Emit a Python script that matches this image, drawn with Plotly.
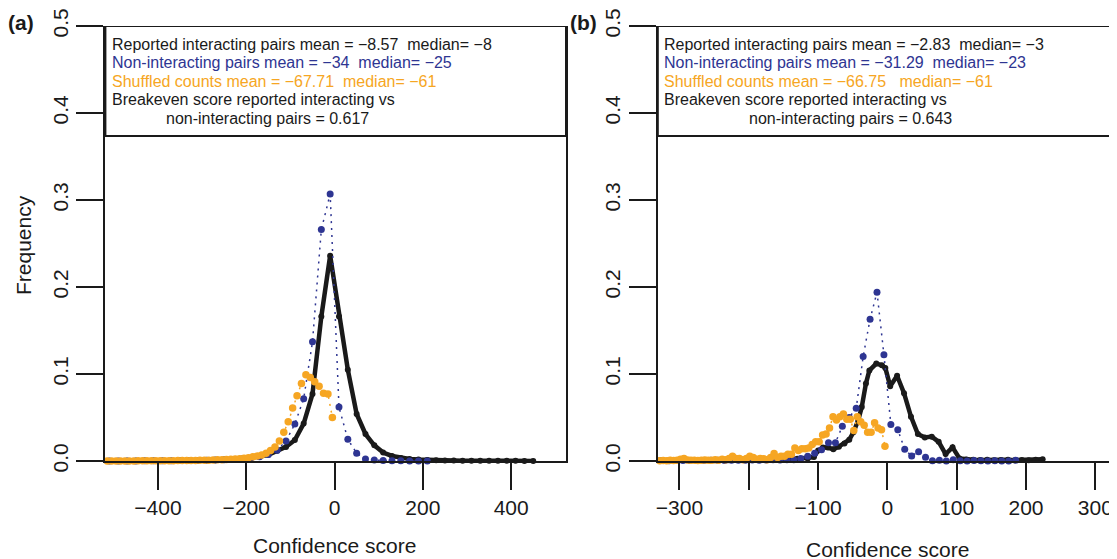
import plotly.graph_objects as go

# ---------------- data: panel (a) ----------------
black_a_x = [-510, -490, -470, -450, -430, -410, -390, -370, -350, -330, -310, -290, -270,
             -250, -230, -210, -190, -170, -150, -130, -110, -90, -70, -50, -30, -10,
             10, 30, 50, 70, 90, 110, 130, 150, 170, 190, 210, 230, 250, 270, 290, 310,
             330, 350, 370, 390, 410, 430, 450]
black_a_y = [0.0001, 0.0001, 0.0002, 0.0002, 0.0002, 0.0003, 0.0003, 0.0004, 0.0005, 0.0006,
             0.0007, 0.0008, 0.0010, 0.0013, 0.0018, 0.0025, 0.0035, 0.0050, 0.0072, 0.0118,
             0.0162, 0.024, 0.043, 0.077, 0.166, 0.236,
             0.166, 0.105, 0.054, 0.031, 0.018, 0.0098, 0.0058, 0.0035, 0.0024, 0.0016,
             0.0011, 0.0008, 0.0006, 0.0005, 0.0004, 0.0004, 0.0003, 0.0003, 0.0002, 0.0002,
             0.0002, 0.0001, 0.0001]

blue_a_x = [-510, -490, -470, -450, -430, -410, -390, -370, -350, -330, -310, -290, -270,
            -250, -230, -210, -190, -170, -150, -130, -110, -90, -70, -50, -30, -10,
            10, 30, 50, 70, 90, 110, 130, 150, 170, 190, 210]
blue_a_y = [0.0, 0.0, 0.0001, 0.0001, 0.0002, 0.0002, 0.0003, 0.0004, 0.0005, 0.0006,
            0.0007, 0.0009, 0.0011, 0.0014, 0.0018, 0.0024, 0.0033, 0.0048, 0.0075, 0.0125,
            0.023, 0.0425, 0.0715, 0.137, 0.266, 0.307,
            0.062, 0.025, 0.009, 0.0023, 0.0011, 0.0005, 0.0003, 0.0002, 0.0001, 0.0, 0.0]

orange_a_x = [-525, -515, -505, -495, -485, -475, -465, -455, -445, -435, -425, -415, -405,
              -395, -385, -375, -365, -355, -345, -335, -325, -315, -305, -295,
              -285, -275, -265, -255, -245, -235, -225, -215, -205,
              -195, -185, -175, -165, -155, -145, -135, -125, -115, -105,
              -95, -85, -75, -65, -55, -45, -35, -25, -15, -5]
orange_a_y = [0.0, 0.0, 0.0, 0.0001, 0.0001, 0.0001, 0.0001, 0.0001, 0.0002, 0.0002, 0.0002,
              0.0002, 0.0003,
              0.0003, 0.0003, 0.0004, 0.0004, 0.0005, 0.0005, 0.0006, 0.0007, 0.0007, 0.0008,
              0.0009,
              0.0010, 0.0011, 0.0013, 0.0015, 0.0017, 0.0020, 0.0023, 0.0027, 0.0031,
              0.0038, 0.0048, 0.0058, 0.0069, 0.0088, 0.012, 0.016, 0.023, 0.033, 0.045,
              0.061, 0.075, 0.089, 0.099, 0.096, 0.091, 0.086, 0.078, 0.077, 0.050]

# ---------------- data: panel (b) ----------------
black_b_x = [-328, -310, -290, -270, -250, -230, -210, -190, -170, -150, -130, -115, -106,
             -100, -93, -86, -78, -70, -62, -55, -49, -42, -37, -31, -26, -16, -8, -3,
             4, 14, 24, 34, 44, 54, 64, 74, 84, 94, 104, 114, 124, 134, 144, 154, 164,
             174, 184, 194, 204, 214, 224]
black_b_y = [0.0008, 0.0008, 0.0010, 0.0008, 0.0010, 0.0010, 0.0012, 0.0015, 0.0020, 0.0020,
             0.0025, 0.0030, 0.0045, 0.012, 0.0155, 0.0155, 0.0135, 0.0165, 0.020, 0.0245,
             0.033, 0.047, 0.062, 0.089, 0.104, 0.112, 0.110, 0.107,
             0.086, 0.098, 0.078, 0.051, 0.031, 0.027, 0.028, 0.022, 0.008, 0.0157, 0.003,
             0.0018, 0.0015, 0.0012, 0.0015, 0.0010, 0.0012, 0.0015, 0.0010, 0.0012, 0.0010,
             0.0013, 0.0020]

blue_b_x = [-335, -325, -315, -305, -295, -285, -275, -265, -255, -245, -235, -225, -215,
            -205, -195, -185, -175, -165, -155, -145,
            -135, -125, -115, -105, -95, -85, -75, -65, -55, -45, -35, -25, -15, -5,
            5, 15, 25, 35, 45, 55, 65, 75, 85, 95, 105, 115, 125, 135, 145, 155, 165, 175, 185]
blue_b_y = [0.0005, 0.0005, 0.0004, 0.0006, 0.0006, 0.0005, 0.0007, 0.0006, 0.0008, 0.0008,
            0.0007, 0.0009, 0.0010, 0.0009, 0.0011, 0.0010, 0.0012, 0.0013, 0.0012, 0.0014,
            0.0015, 0.003, 0.0054, 0.009, 0.013, 0.021, 0.021, 0.040, 0.050, 0.0605, 0.120,
            0.163, 0.194, 0.122,
            0.042, 0.036, 0.0134, 0.0058, 0.0107, 0.0042, 0.0004, 0.0008, 0.0, 0.0015,
            0.0003, 0.0, 0.0005, 0.0002, 0.0, 0.0003, 0.0, 0.0001, 0.0010]

orange_b_x = [-333.5, -328.5, -323.5, -318.5, -313.5, -308.5, -303.5, -298.5, -293.5, -288.5,
              -283.5, -278.5, -273.5, -268.5, -263.5, -258.5, -253.5, -248.5, -243.5, -238.5,
              -233.5, -228.5, -223.5, -218.5, -213.5, -208.5, -203.5, -198.5, -193.5, -188.5,
              -183.5, -178.5, -173.5, -168.5, -163.5, -158.5, -153.5, -148.5, -143.5, -138.5,
              -133.5, -128.5, -123.5, -118.5, -113.5, -108.5, -103.5, -98.5, -93.5, -88.5,
              -83.5, -78.5, -73.5, -68.5, -63.5, -58.5, -53.5, -48.5, -43.5, -38.5,
              -33.5, -28.5, -23.5, -18.5, -13.5, -8.5, -3.5]
orange_b_y = [0.0005, 0.0003, 0.0006, 0.0004, 0.0008, 0.0005, 0.0010, 0.0020, 0.0030, 0.0012,
              0.0008, 0.0010, 0.0006, 0.0009, 0.0012, 0.0008, 0.0010, 0.0014, 0.0010, 0.0020,
              0.0015, 0.0030, 0.0055, 0.0030, 0.0028, 0.0015, 0.0030, 0.0055, 0.0040, 0.0020,
              0.0030, 0.0027, 0.0015, 0.0040, 0.0085, 0.0040, 0.0054, 0.0054, 0.0077, 0.0077,
              0.015, 0.012, 0.014, 0.014, 0.015, 0.019, 0.022, 0.022, 0.030, 0.031,
              0.038, 0.051, 0.047, 0.051, 0.054, 0.048, 0.048, 0.035, 0.051, 0.045,
              0.041, 0.033, 0.033, 0.044, 0.038, 0.036, 0.017]

y_ticks = [0.0, 0.1, 0.2, 0.3, 0.4, 0.5]
y_tick_text = ["0.0", "0.1", "0.2", "0.3", "0.4", "0.5"]
xa_ticks = [-400, -200, 0, 200, 400]
xa_tick_text = ["\u2212400", "\u2212200", "0", "200", "400"]
xb_ticks = [-300, -200, -100, 0, 100, 200, 300]
xb_tick_text = ["\u2212300", "", "\u2212100", "0", "100", "200", "300"]

legend_a = [
    ("Reported interacting pairs mean = \u22128.57\u00a0\u00a0median= \u22128", "black"),
    ("Non-interacting pairs mean = \u221234\u00a0\u00a0median= \u221225", "blue"),
    ("Shuffled counts mean = \u221267.71\u00a0\u00a0median= \u221261", "orange"),
    ("Breakeven score reported interacting vs", "black"),
]
legend_a_last = "non-interacting pairs = 0.617"
legend_b = [
    ("Reported interacting pairs mean = \u22122.83\u00a0\u00a0median= \u22123", "black"),
    ("Non-interacting pairs mean = \u221231.29\u00a0\u00a0median= \u221223", "blue"),
    ("Shuffled counts mean = \u221266.75\u00a0\u00a0\u00a0median= \u221261", "orange"),
    ("Breakeven score reported interacting vs", "black"),
]
legend_b_last = "non-interacting pairs = 0.643"

# ---------------- style / geometry ----------------
FONT = "Liberation Sans, Arial, Helvetica, sans-serif"
BLACK = "#1a1a1a"
BLUE = "#2e3592"
ORANGE = "#f6a623"
COLORS = {"black": BLACK, "blue": BLUE, "orange": ORANGE}

# the page body has an 8px margin: figure drawn at (8, 8) in the window
OFF = 8
W, H = 1117 - OFF, 559 - OFF


def px(xr):  # window x -> paper fraction
    return (xr - OFF) / W


def py(yr):  # window y (from top) -> paper fraction
    return (559 - yr) / H


fig = go.Figure()


def add_panel(xa, ya, bx, by, ux, uy, ox, oy):
    fig.add_trace(go.Scatter(x=bx, y=by, xaxis=xa, yaxis=ya, mode="lines+markers",
                             line=dict(color=BLACK, width=4.5),
                             marker=dict(color=BLACK, size=6), cliponaxis=False,
                             showlegend=False, hoverinfo="skip"))
    fig.add_trace(go.Scatter(x=ux, y=uy, xaxis=xa, yaxis=ya, mode="lines+markers",
                             line=dict(color=BLUE, width=1.5, dash="2px,5px"),
                             marker=dict(color=BLUE, size=7), cliponaxis=False,
                             showlegend=False, hoverinfo="skip"))
    fig.add_trace(go.Scatter(x=ox, y=oy, xaxis=xa, yaxis=ya, mode="lines+markers",
                             line=dict(color=ORANGE, width=1.5, dash="2px,5px"),
                             marker=dict(color=ORANGE, size=7.5), cliponaxis=False,
                             showlegend=False, hoverinfo="skip"))


add_panel("x", "y", black_a_x, black_a_y, blue_a_x, blue_a_y, orange_a_x, orange_a_y)
add_panel("x2", "y2", black_b_x, black_b_y, blue_b_x, blue_b_y, orange_b_x, orange_b_y)

axis_common = dict(showgrid=False, zeroline=False, showline=True, linecolor=BLACK,
                   linewidth=2, ticks="outside", ticklen=27, tickwidth=2, tickcolor=BLACK,
                   automargin=False,
                   tickfont=dict(family=FONT, size=21, color=BLACK))

ya_dom = [py(461), py(26)]

fig.update_layout(
    width=W, height=H, margin=dict(l=0, r=0, t=0, b=0, autoexpand=False),
    paper_bgcolor="white", plot_bgcolor="white",
    xaxis=dict(domain=[px(105.4), px(566)], range=[-519.1, 524.2], anchor="y",
               tickmode="array", tickvals=xa_ticks, ticktext=xa_tick_text, **axis_common),
    yaxis=dict(domain=ya_dom, range=[0, 0.5], anchor="x", mirror=True,
               tickmode="array", tickvals=y_ticks, ticktext=y_tick_text, tickangle=-90,
               **axis_common),
    xaxis2=dict(domain=[px(657.8), 1.0], range=[-331.3, 331.3], anchor="y2",
                tickmode="array", tickvals=xb_ticks, ticktext=xb_tick_text, **axis_common),
    yaxis2=dict(domain=ya_dom, range=[0, 0.5], anchor="x2",
                tickmode="array", tickvals=y_ticks, ticktext=y_tick_text, tickangle=-90,
                **axis_common),
)

box_bottom = 0.3736
fig.add_shape(type="rect", xref="x domain", yref="y", x0=0, x1=1, y0=box_bottom, y1=0.5,
              line=dict(color=BLACK, width=2), fillcolor="rgba(0,0,0,0)")
fig.add_shape(type="rect", xref="x2 domain", yref="y2", x0=0, x1=1.05, y0=box_bottom, y1=0.5,
              line=dict(color=BLACK, width=2), fillcolor="rgba(0,0,0,0)")

line_y = [0.4787, 0.458, 0.436, 0.4154, 0.3935]


def add_legend(xref, yref, lines, last, x0, xlast):
    for (txt, c), yy in zip(lines, line_y[:4]):
        fig.add_annotation(text=txt, xref=xref, yref=yref, x=x0, y=yy, xanchor="left",
                           yanchor="middle", showarrow=False,
                           font=dict(family=FONT, size=16, color=COLORS[c]))
    fig.add_annotation(text=last, xref=xref, yref=yref, x=xlast, y=line_y[4],
                       xanchor="left", yanchor="middle", showarrow=False,
                       font=dict(family=FONT, size=16, color=BLACK))


add_legend("x domain", "y", legend_a, legend_a_last, 0.010, 0.1264)
add_legend("x2 domain", "y2", legend_b, legend_b_last, 0.009, 0.194)

fig.add_annotation(text="Frequency", xref="paper", yref="paper", x=px(23), y=py(245),
                   textangle=-90, showarrow=False, xanchor="center", yanchor="middle",
                   font=dict(family=FONT, size=21, color=BLACK))
fig.add_annotation(text="Confidence score", xref="x", yref="paper", x=0, y=py(545),
                   showarrow=False, xanchor="center", yanchor="middle",
                   font=dict(family=FONT, size=21, color=BLACK))
fig.add_annotation(text="Confidence score", xref="x2", yref="paper", x=0, y=py(549),
                   showarrow=False, xanchor="center", yanchor="middle",
                   font=dict(family=FONT, size=21, color=BLACK))
fig.add_annotation(text="<b>(a)</b>", xref="paper", yref="paper", x=px(21), y=py(22),
                   showarrow=False, xanchor="center", yanchor="middle",
                   font=dict(family=FONT, size=21, color=BLACK))
fig.add_annotation(text="<b>(b)</b>", xref="paper", yref="paper", x=px(583), y=py(22),
                   showarrow=False, xanchor="center", yanchor="middle",
                   font=dict(family=FONT, size=21, color=BLACK))

fig.write_html("out.html")
